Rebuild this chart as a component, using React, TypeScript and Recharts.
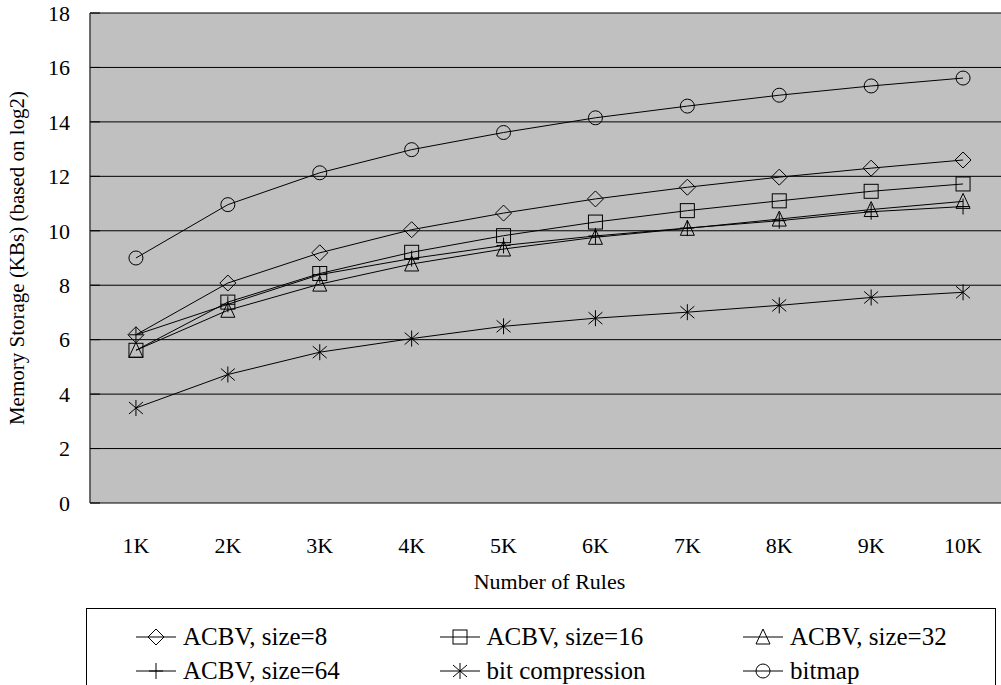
import React from 'react';
import { LineChart, Line, XAxis, YAxis, CartesianGrid, Label } from 'recharts';

const categories = ['1K', '2K', '3K', '4K', '5K', '6K', '7K', '8K', '9K', '10K'];
const acbv8 = [6.18, 8.08, 9.19, 10.04, 10.65, 11.17, 11.6, 11.97, 12.3, 12.6];
const acbv16 = [5.61, 7.38, 8.43, 9.21, 9.82, 10.32, 10.74, 11.1, 11.45, 11.72];
const acbv32 = [5.61, 7.08, 8.04, 8.78, 9.33, 9.76, 10.09, 10.43, 10.78, 11.08];
const acbv64 = [6.18, 7.3, 8.39, 8.98, 9.46, 9.81, 10.1, 10.37, 10.7, 10.89];
const bitCompression = [3.49, 4.72, 5.54, 6.04, 6.49, 6.79, 7.01, 7.26, 7.55, 7.74];
const bitmap = [9.0, 10.96, 12.13, 12.98, 13.61, 14.15, 14.58, 14.98, 15.32, 15.61];
const yTicks = [0, 2, 4, 6, 8, 10, 12, 14, 16, 18];

const series = [
  { key: 'acbv8', name: 'ACBV, size=8', shape: 'diamond', values: acbv8 },
  { key: 'acbv16', name: 'ACBV, size=16', shape: 'square', values: acbv16 },
  { key: 'acbv32', name: 'ACBV, size=32', shape: 'triangle', values: acbv32 },
  { key: 'acbv64', name: 'ACBV, size=64', shape: 'plus', values: acbv64 },
  { key: 'bitc', name: 'bit compression', shape: 'asterisk', values: bitCompression },
  { key: 'bitmap', name: 'bitmap', shape: 'circle', values: bitmap },
];

const data = categories.map((c, i) => {
  const row: any = { x: i + 1, label: c };
  series.forEach((s) => { row[s.key] = s.values[i]; });
  return row;
});

const labelTicks = categories.map((_, i) => i + 1);
const boundaryTicks = [...categories.map((_, i) => i + 0.5), categories.length + 0.5];

const FONT = 'Liberation Serif';

function Marker({ cx, cy, shape }: any) {
  if (cx == null || cy == null || isNaN(cx) || isNaN(cy)) return null;
  const st = { fill: 'none', stroke: '#000', strokeWidth: 1 };
  switch (shape) {
    case 'diamond':
      return <polygon points={`${cx},${cy - 8} ${cx + 8},${cy} ${cx},${cy + 8} ${cx - 8},${cy}`} {...st} />;
    case 'square':
      return <rect x={cx - 7} y={cy - 7} width={14} height={14} {...st} />;
    case 'triangle':
      return <polygon points={`${cx},${cy - 8} ${cx + 7},${cy + 7} ${cx - 7},${cy + 7}`} {...st} />;
    case 'plus':
      return (
        <g {...st}>
          <line x1={cx - 7} y1={cy} x2={cx + 7} y2={cy} />
          <line x1={cx} y1={cy - 8} x2={cx} y2={cy + 8} />
        </g>
      );
    case 'asterisk':
      return (
        <g {...st}>
          <line x1={cx} y1={cy - 8} x2={cx} y2={cy + 8} />
          <line x1={cx - 7} y1={cy - 6} x2={cx + 7} y2={cy + 6} />
          <line x1={cx - 7} y1={cy + 6} x2={cx + 7} y2={cy - 6} />
        </g>
      );
    case 'circle':
      return <circle cx={cx} cy={cy} r={7} {...st} />;
    default:
      return null;
  }
}

function LegendIcon({ shape }: { shape: string }) {
  return (
    <svg width={40} height={20} style={{ display: 'block' }}>
      <line x1={0} y1={10} x2={40} y2={10} stroke="#000" strokeWidth={1} />
      <Marker cx={20} cy={10} shape={shape} />
    </svg>
  );
}

export default function App() {
  return (
    <div style={{ position: 'fixed', left: 0, top: 0, width: 1001, height: 685, overflow: 'hidden', background: '#fff', fontFamily: FONT }}>
      <LineChart
        width={1015}
        height={685}
        data={data}
        margin={{ top: 13, right: 6, left: 0, bottom: 92 }}
        style={{ fontFamily: FONT }}
      >
        <CartesianGrid vertical={false} horizontal={true} stroke="#000" strokeWidth={1} fill="#c0c0c0" fillOpacity={1} />
        <XAxis
          xAxisId="tk"
          type="number"
          dataKey="x"
          domain={[0.5, categories.length + 0.5]}
          ticks={boundaryTicks}
          tickFormatter={() => ''}
          tickSize={-7}
          tickLine={{ stroke: '#000', strokeWidth: 1 }}
          axisLine={{ stroke: '#404040', strokeWidth: 1.5 }}
          height={0}
          allowDataOverflow
        />
        <XAxis
          xAxisId="lab"
          type="number"
          dataKey="x"
          domain={[0.5, categories.length + 0.5]}
          ticks={labelTicks}
          tickFormatter={(v: number) => categories[v - 1] ?? ''}
          tickLine={false}
          axisLine={false}
          tickMargin={28}
          height={90}
          tick={{ fill: '#000', fontSize: 22, fontFamily: FONT }}
          allowDataOverflow
        >
          <Label value="Number of Rules" position="insideBottom" offset={4} style={{ fill: '#000', fontSize: 22, fontFamily: FONT }} />
        </XAxis>
        <YAxis
          type="number"
          domain={[0, 18]}
          ticks={yTicks}
          width={90}
          tickSize={-10}
          tickMargin={30}
          tickLine={{ stroke: '#000', strokeWidth: 1 }}
          axisLine={{ stroke: '#404040', strokeWidth: 1.5 }}
          tick={{ fill: '#000', fontSize: 22, fontFamily: FONT }}
          interval={0}
        >
          <Label
            value="Memory Storage (KBs) (based on log2)"
            angle={-90}
            position="insideLeft"
            offset={17}
            style={{ fill: '#000', fontSize: 21, fontFamily: FONT, textAnchor: 'middle' }}
          />
        </YAxis>
        {series.map((s) => (
          <Line
            key={s.key}
            xAxisId="lab"
            type="linear"
            dataKey={s.key}
            name={s.name}
            stroke="#000"
            strokeWidth={1}
            isAnimationActive={false}
            dot={(p: any) => <Marker key={`${s.key}-${p.index}`} cx={p.cx} cy={p.cy} shape={s.shape} />}
            activeDot={false}
          />
        ))}
      </LineChart>
      <div
        style={{
          position: 'absolute',
          left: 86,
          top: 608,
          width: 910,
          height: 120,
          border: '1px solid #000',
          boxSizing: 'border-box',
          fontFamily: FONT,
          fontSize: 25,
          color: '#000',
        }}
      >
        {series.map((s, i) => {
          const col = i % 3;
          const row = Math.floor(i / 3);
          return (
            <div
              key={s.key}
              style={{
                position: 'absolute',
                left: 49 + col * 303.5,
                top: 11 + row * 34,
                height: 34,
                display: 'flex',
                alignItems: 'center',
                whiteSpace: 'nowrap',
              }}
            >
              <LegendIcon shape={s.shape} />
              <span style={{ marginLeft: 7, lineHeight: '34px' }}>{s.name}</span>
            </div>
          );
        })}
      </div>
    </div>
  );
}
